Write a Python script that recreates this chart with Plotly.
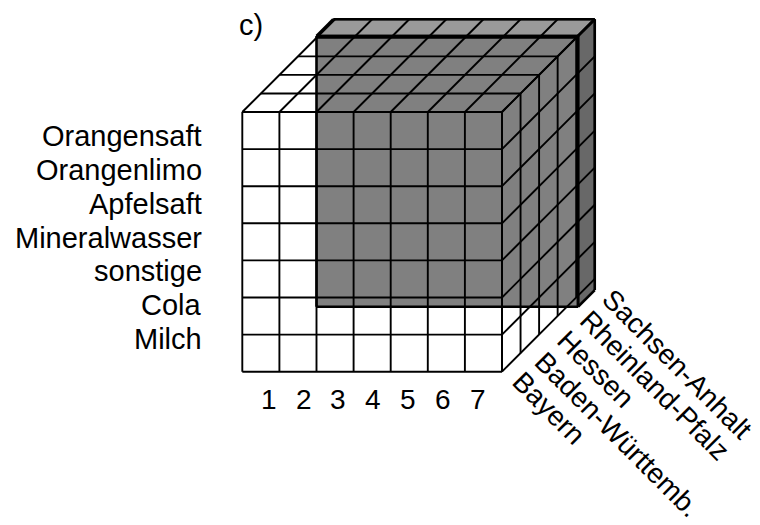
import plotly.graph_objects as go

# ---------------- data ----------------
panel_label = "c)"
columns = ["1", "2", "3", "4", "5", "6", "7"]
products = ["Orangensaft", "Orangenlimo", "Apfelsaft", "Mineralwasser",
            "sonstige", "Cola", "Milch"]
states = ["Bayern", "Baden-Württemb.", "Hessen", "Rheinland-Pfalz", "Sachsen-Anhalt"]
selected_columns = ["3", "4", "5", "6", "7"]
selected_products = ["Orangensaft", "Orangenlimo", "Apfelsaft", "Mineralwasser", "sonstige"]
selected_states = ["Bayern", "Baden-Württemb.", "Hessen", "Rheinland-Pfalz", "Sachsen-Anhalt"]

# ---------------- geometry (cell units) ----------------
NC, NR, ND = len(columns), len(products), len(states)
K = 0.5          # oblique shift per depth layer
T = 0.45         # thickness of drawn selection slab
PAD = 0.25       # selection box extends slightly below its last row

def P(u, v, w=0.0):
    return (u + K * w, v + K * w)

def seg_trace(segs, width, color="black"):
    xs, ys = [], []
    for a, b in segs:
        xs += [a[0], b[0], None]
        ys += [a[1], b[1], None]
    return go.Scatter(x=xs, y=ys, mode="lines", hoverinfo="skip",
                      line=dict(color=color, width=width), showlegend=False)

def poly_trace(pts, fill):
    xs = [p[0] for p in pts] + [pts[0][0]]
    ys = [p[1] for p in pts] + [pts[0][1]]
    return go.Scatter(x=xs, y=ys, mode="lines", fill="toself", fillcolor=fill,
                      line=dict(width=0, color=fill), hoverinfo="skip", showlegend=False)

fig = go.Figure()

# selection slab
u0 = columns.index(selected_columns[0])
v0 = NR - len(selected_products)
x0, x1 = u0, NC + K * ND - T
y0, y1 = v0 - PAD, NR + K * ND - T
front = [(x0, y0), (x1, y0), (x1, y1), (x0, y1)]
top = [(x0, y1), (x1, y1), (x1 + T, y1 + T), (x0 + T, y1 + T)]
right = [(x1, y0), (x1 + T, y0 + T), (x1 + T, y1 + T), (x1, y1)]
fig.add_trace(poly_trace(front, "#808080"))
fig.add_trace(poly_trace(top, "#9a9a9a"))
fig.add_trace(poly_trace(right, "#686868"))

# cube grid
segs = []
for u in range(NC + 1):
    segs.append((P(u, 0), P(u, NR)))
    segs.append((P(u, NR, 0), P(u, NR, ND)))
for v in range(NR + 1):
    segs.append((P(0, v), P(NC, v)))
    segs.append((P(NC, v, 0), P(NC, v, ND)))
for w in range(ND + 1):
    segs.append((P(0, NR, w), P(NC, NR, w)))
    segs.append((P(NC, 0, w), P(NC, NR, w)))
fig.add_trace(seg_trace(segs, 1.9))

# slab outline
oseg = []
for poly in (front, top, right):
    for i in range(len(poly)):
        oseg.append((poly[i], poly[(i + 1) % len(poly)]))
fig.add_trace(seg_trace(oseg, 2.6))

# ---------------- text ----------------
FONT = "Liberation Sans, Arial, sans-serif"
ann = []
ann.append(dict(x=-0.08, y=NR + K * ND - 0.15, text=panel_label, showarrow=False,
                xanchor="left", yanchor="middle", borderpad=0, borderwidth=0,
                font=dict(size=29, family=FONT, color="black")))
ROW_TOP, ROW_PITCH = 6.353, 0.912
for i, name in enumerate(products):
    ann.append(dict(x=-1.04, y=ROW_TOP - i * ROW_PITCH, text=name, showarrow=False,
                    xanchor="right", yanchor="middle",
                    font=dict(size=29, family=FONT, color="black")))
COL_X0, COL_PITCH = 0.714, 0.938
for i, name in enumerate(columns):
    ann.append(dict(x=COL_X0 + i * COL_PITCH, y=-0.744, text=name, showarrow=False,
                    xanchor="center", yanchor="middle",
                    font=dict(size=28, family=FONT, color="black")))
DX0, DY0, DPX, DPY = 7.12, 0.14, 0.606, 0.558
for i, name in enumerate(states):
    ann.append(dict(x=DX0 + i * DPX, y=DY0 + i * DPY, text=name, showarrow=False,
                    xanchor="left", yanchor="top", textangle=45,
                    borderpad=0, borderwidth=0,
                    font=dict(size=28, family=FONT, color="black")))

# the page body has an 8 px margin; the figure fills the rest of the window
U = 37.1
OX, OY = 242.3, 371.7
BM = 8
W, H = 760, 525
fig.update_layout(
    width=W - BM, height=H - BM,
    margin=dict(l=0, r=0, t=0, b=0),
    paper_bgcolor="white", plot_bgcolor="white",
    xaxis=dict(range=[(BM - OX) / U, (W - OX) / U], visible=False, fixedrange=True),
    yaxis=dict(range=[-(H - OY) / U, (OY - BM) / U], visible=False, fixedrange=True),
    annotations=ann,
    showlegend=False,
)
fig.write_html("out.html")
